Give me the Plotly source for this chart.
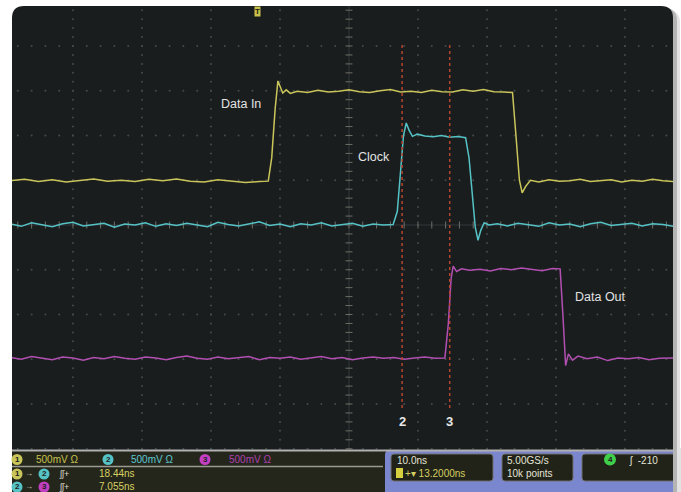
import plotly.graph_objects as go

# ---------------- data (x: time in ns, 10 ns/div; y: screen divisions) ----------------
din_t = [-49,-47,-45,-43,-41,-39,-37,-35,-33,-31,-29,-27,-25,-23,-21,-19,-17,-15,-13,-11.7,
         -11.2,-10.7,-10.3,-10.0,-9.6,-9.1,-8.5,
         -7.5,-6,-4.5,-3,-1.5,0,1.5,3,4.5,6,7.5,9,10.5,12,13.5,15,16.5,18,19.5,21,22.5,
         23.7,24.2,24.7,25.1,25.6,26.3,27.5,
         29,30.5,32,33.5,35,36.5,38,39.5,41,42.5,44,45.5,47]
din_v = [0.99,1.02,0.97,1.01,0.96,1.00,1.03,0.98,1.00,0.97,1.02,0.99,1.03,0.98,0.96,1.01,0.98,0.95,0.97,0.98,
         1.5,2.6,3.22,3.12,2.95,3.02,2.94,
         2.99,2.96,3.01,2.97,2.99,3.02,2.98,2.96,3.00,3.03,2.97,2.99,2.96,3.01,2.98,2.97,3.02,2.99,3.03,2.98,2.97,
         2.96,2.0,1.0,0.72,0.86,1.0,0.96,
         1.01,0.98,0.99,1.02,0.97,0.99,1.01,0.96,1.00,0.98,1.02,0.99,0.97]

clk_t = [-49,-47.5,-46,-44.5,-43,-41.5,-40,-38.5,-37,-35.5,-34,-32.5,-31,-29.5,-28,-26.5,-25,-23.5,-22,-20.5,
         -19,-17.5,-16,-14.5,-13,-11.5,-10,-8.5,-7,-5.5,-4,-2.5,-1,0.5,2,3.5,5,6.4,
         7.0,7.5,7.9,8.3,8.7,9.2,9.9,11,12.2,13.4,14.6,15.8,16.9,
         17.4,17.9,18.3,18.7,19.1,19.6,20.3,
         21.5,23,24.5,26,27.5,29,30.5,32,33.5,35,36.5,38,39.5,41,42.5,44,45.5,47]
clk_v = [0.02,-0.03,0.05,0.00,-0.04,0.03,0.06,-0.02,0.01,0.04,-0.05,0.02,0.00,0.05,-0.03,0.03,-0.01,0.04,0.00,-0.04,
         0.06,0.01,-0.02,0.03,0.07,-0.01,0.02,-0.04,0.03,0.00,0.05,-0.02,0.01,0.04,-0.03,0.02,0.00,0.01,
         0.3,1.2,2.0,2.28,2.12,1.98,2.03,1.99,1.97,2.00,1.96,1.98,1.95,
         1.5,0.6,-0.05,-0.34,-0.12,0.05,0.0,
         0.03,-0.02,0.04,0.01,-0.03,0.05,0.00,0.02,-0.04,0.03,0.06,-0.01,0.02,0.04,-0.02,0.03,0.01,-0.03]

dout_t = [-49,-47.5,-46,-44.5,-43,-41.5,-40,-38.5,-37,-35.5,-34,-32.5,-31,-29.5,-28,-26.5,-25,-23.5,-22,-20.5,
          -19,-17.5,-16,-14.5,-13,-11.5,-10,-8.5,-7,-5.5,-4,-2.5,-1,0.5,2,3.5,5,6.5,8,9.5,11,12.5,13.9,
          14.4,14.8,15.1,15.6,16.3,
          17.5,19,20.5,22,23.5,25,26.5,28,29.5,30.6,
          31.0,31.4,31.8,32.4,33.2,
          34.5,36,37.5,39,40.5,42,43.5,45,47]
dout_v = [-2.96,-3.00,-2.94,-2.98,-3.01,-2.95,-2.97,-3.02,-2.96,-2.99,-2.94,-2.98,-3.00,-2.95,-2.97,-3.01,-2.96,-2.93,-2.98,-3.00,
          -2.95,-2.99,-2.97,-2.94,-3.01,-2.96,-2.98,-2.95,-3.00,-2.97,-2.94,-2.99,-2.96,-3.01,-2.97,-2.95,-2.98,-2.96,-3.00,-2.97,-2.95,-2.98,-2.97,
          -2.2,-1.2,-0.92,-1.04,-0.98,
          -1.01,-0.99,-1.03,-0.97,-1.00,-0.96,-0.99,-1.02,-0.97,-0.98,
          -2.0,-3.14,-2.88,-3.02,-2.93,
          -2.99,-2.95,-3.03,-2.97,-2.99,-2.96,-3.01,-2.98,-2.97]

cursor_t = [7.7, 14.6]
cursor_labels = ["2", "3"]
trigger_t = -13.2
signal_labels = ["Data In", "Clock", "Data Out"]
signal_label_pos = [(-15.6, 2.70), (3.6, 1.52), (36.5, -1.61)]

ch_scale_text = ["500mV Ω", "500mV Ω", "500mV Ω"]
meas_values = ["18.44ns", "7.055ns"]
horiz_text = ["10.0ns", "+▾ 13.2000ns"]
acq_text = ["5.00GS/s", "10k points"]
trig_text = "ʃ  -210"

# ---------------- geometry ----------------
W, H = 681, 492
L, R, T, B = 12, 8, 6, 42
XR = [-48.84, 46.96]
YR = [-5.028, 4.894]
PW, PH = W - L - R, H - T - B

def X(px):
    return (px - L) / PW

def Y(py):
    return (H - B - py) / PH

YEL = "#c9c55a"
CYA = "#55c3c6"
MAG = "#b24fb2"
FONT = "Liberation Sans, Arial, sans-serif"

fig = go.Figure()

# graticule dots
gx, gy = [], []
for k in range(-4, 5):
    if k == 0:
        continue
    t = k * 10
    for j in range(-25, 25):
        gx.append(t); gy.append(j * 0.2)
for d in range(-5, 5):
    if d == 0:
        continue
    for j in range(-24, 24):
        gx.append(j * 2); gy.append(d)
fig.add_trace(go.Scatter(x=gx, y=gy, mode="markers",
                         marker=dict(size=2, color="#454a4a"), hoverinfo="skip"))
# center axes
fig.add_trace(go.Scatter(x=[0, 0], y=[-5.1, 5], mode="lines",
                         line=dict(color="#34393a", width=1), hoverinfo="skip"))
fig.add_trace(go.Scatter(x=[-50, 50], y=[0, 0], mode="lines",
                         line=dict(color="#34393a", width=1), hoverinfo="skip"))
fig.add_trace(go.Scatter(x=[0] * 50, y=[j * 0.2 for j in range(-25, 25)], mode="markers",
                         marker=dict(symbol="line-ew", size=5, line=dict(width=1, color="#6c6e66")),
                         hoverinfo="skip"))
fig.add_trace(go.Scatter(x=[j * 2 for j in range(-24, 24)], y=[0] * 48, mode="markers",
                         marker=dict(symbol="line-ns", size=5, line=dict(width=1, color="#6c6e66")),
                         hoverinfo="skip"))

# waveforms
for tt, vv, c in [(din_t, din_v, YEL), (clk_t, clk_v, CYA), (dout_t, dout_v, MAG)]:
    fig.add_trace(go.Scatter(x=tt, y=vv, mode="lines", line=dict(color=c, width=1.5),
                             hoverinfo="skip"))

# cursors
for ct in cursor_t:
    fig.add_trace(go.Scatter(x=[ct, ct], y=[4.02, -4.1], mode="lines",
                             line=dict(color="#b8432e", width=1.5, dash="dot"), hoverinfo="skip"))

ann = []
for lab, (lx, ly) in zip(signal_labels, signal_label_pos):
    ann.append(dict(x=lx, y=ly, xref="x", yref="y", text=lab, showarrow=False,
                    font=dict(family=FONT, size=12.5, color="#e2e2e2")))
for ct, lab in zip(cursor_t, cursor_labels):
    ann.append(dict(x=ct, y=-4.4, xref="x", yref="y", text="<b>" + lab + "</b>", showarrow=False,
                    font=dict(family=FONT, size=13, color="#e8e8e8")))
ann.append(dict(x=trigger_t, y=4.77, xref="x", yref="y", text="<b>T</b>", showarrow=False,
                bgcolor="#c9c24a", borderpad=0, font=dict(family=FONT, size=8, color="#1c1c10")))

shapes = []

def rrect(x0, y0, x1, y1, r, **kw):
    p = (f"M {X(x0+r)},{Y(y0)} L {X(x1-r)},{Y(y0)} Q {X(x1)},{Y(y0)} {X(x1)},{Y(y0+r)} "
         f"L {X(x1)},{Y(y1-r)} Q {X(x1)},{Y(y1)} {X(x1-r)},{Y(y1)} L {X(x0+r)},{Y(y1)} "
         f"Q {X(x0)},{Y(y1)} {X(x0)},{Y(y1-r)} L {X(x0)},{Y(y0+r)} Q {X(x0)},{Y(y0)} {X(x0+r)},{Y(y0)} Z")
    d = dict(type="path", path=p, xref="paper", yref="paper")
    d.update(kw)
    return d

# shadow + panel
shapes.append(rrect(16, 10, 680, 520, 13, fillcolor="#e2e2e2", line=dict(width=0), layer="below"))
shapes.append(rrect(14, 8, 677, 520, 13, fillcolor="#b4b4b4", line=dict(width=0), layer="below"))
shapes.append(rrect(12, 6, 673, 520, 12, fillcolor="#1a1d1e", line=dict(width=0), layer="below"))

# status bar
shapes.append(dict(type="rect", xref="paper", yref="paper", x0=X(12), x1=X(386), y0=Y(492), y1=Y(450),
                   fillcolor="#25261b", line=dict(width=0)))
shapes.append(rrect(385, 450, 690, 520, 5, fillcolor="#7a87cf", line=dict(width=0)))
shapes.append(dict(type="rect", xref="paper", yref="paper", x0=X(673), x1=X(681), y0=Y(492), y1=Y(448),
                   fillcolor="#b4b4b4", line=dict(width=0)))
shapes.append(dict(type="rect", xref="paper", yref="paper", x0=X(677), x1=X(681), y0=Y(492), y1=Y(448),
                   fillcolor="#e2e2e2", line=dict(width=0)))
shapes.append(dict(type="line", xref="paper", yref="paper", x0=X(12), x1=X(673), y0=Y(450.5), y1=Y(450.5),
                   line=dict(color="#b0b0b0", width=2)))
shapes.append(dict(type="line", xref="paper", yref="paper", x0=X(12), x1=X(383), y0=Y(466.5), y1=Y(466.5),
                   line=dict(color="#9a9a90", width=1.5)))
shapes.append(rrect(391, 454, 493, 481, 3, fillcolor="#212218", line=dict(color="#707070", width=1)))
shapes.append(rrect(502, 454, 573, 481, 3, fillcolor="#212218", line=dict(color="#707070", width=1)))
shapes.append(dict(type="path", xref="paper", yref="paper",
                   path=f"M {X(673)},{Y(454)} L {X(585)},{Y(454)} Q {X(582)},{Y(454)} {X(582)},{Y(457)} "
                        f"L {X(582)},{Y(478)} Q {X(582)},{Y(481)} {X(585)},{Y(481)} L {X(673)},{Y(481)}",
                   fillcolor="#212218", line=dict(color="#707070", width=1)))

def badge(cx, cy, col, num, r=5.5):
    shapes.append(dict(type="circle", xref="paper", yref="paper", x0=X(cx - r), x1=X(cx + r),
                       y0=Y(cy + r), y1=Y(cy - r), fillcolor=col, line=dict(width=0)))
    ann.append(dict(x=X(cx), y=Y(cy), xref="paper", yref="paper", text="<b>" + num + "</b>",
                    showarrow=False, borderpad=0, xanchor="center", yanchor="middle",
                    font=dict(family=FONT, size=8, color="#202020")))

def txt(px, py, s, col, size=10, anchor="left"):
    ann.append(dict(x=X(px), y=Y(py), xref="paper", yref="paper", text=s, showarrow=False,
                    xanchor=anchor, yanchor="middle", borderpad=0,
                    font=dict(family=FONT, size=size, color=col)))

# row 1: channel scales
for (cx, col, n, tx, tcol), s in zip([(17, YEL, "1", 35, "#c8c24e"), (108, CYA, "2", 130, "#5cc6d2"),
                                      (205, "#c23fc2", "3", 228, "#b040b0")], ch_scale_text):
    badge(cx, 459.5, col, n)
    txt(tx, 459.5, s, tcol)
# rows 2, 3: measurements
for (cy, c1, n1, c2, n2), mv in zip([(474, YEL, "1", CYA, "2"), (487, CYA, "2", "#c23fc2", "3")], meas_values):
    badge(17, cy, c1, n1)
    txt(24, cy, "→", "#d8d8c8", 8)
    badge(44, cy, c2, n2)
    txt(58, cy, "ʃʃ+", "#d8d8c8", 9)
    txt(98, cy, mv, "#d6cf62")

# right boxes
txt(396, 460, horiz_text[0], "#e4e4d6")
shapes.append(dict(type="rect", xref="paper", yref="paper", x0=X(396), x1=X(403), y0=Y(478), y1=Y(468),
                   fillcolor="#d6cf40", line=dict(width=0)))
txt(404, 473, horiz_text[1], "#d6cf62")
txt(506, 460, acq_text[0], "#e4e4d6")
txt(506, 473, acq_text[1], "#e4e4d6")
badge(610, 459.5, "#3fcf4a", "4", 6)
txt(628, 460, trig_text, "#e4e4d6")

fig.update_layout(
    width=W, height=H,
    margin=dict(l=L, r=R, t=T, b=B),
    paper_bgcolor="white", plot_bgcolor="rgba(0,0,0,0)",
    showlegend=False,
    xaxis=dict(range=XR, visible=False, showgrid=False, zeroline=False),
    yaxis=dict(range=YR, visible=False, showgrid=False, zeroline=False),
    shapes=shapes, annotations=ann,
)

fig.write_html("out.html", config={"displayModeBar": False},
               post_script="document.body.style.margin='0';document.body.style.padding='0';")
